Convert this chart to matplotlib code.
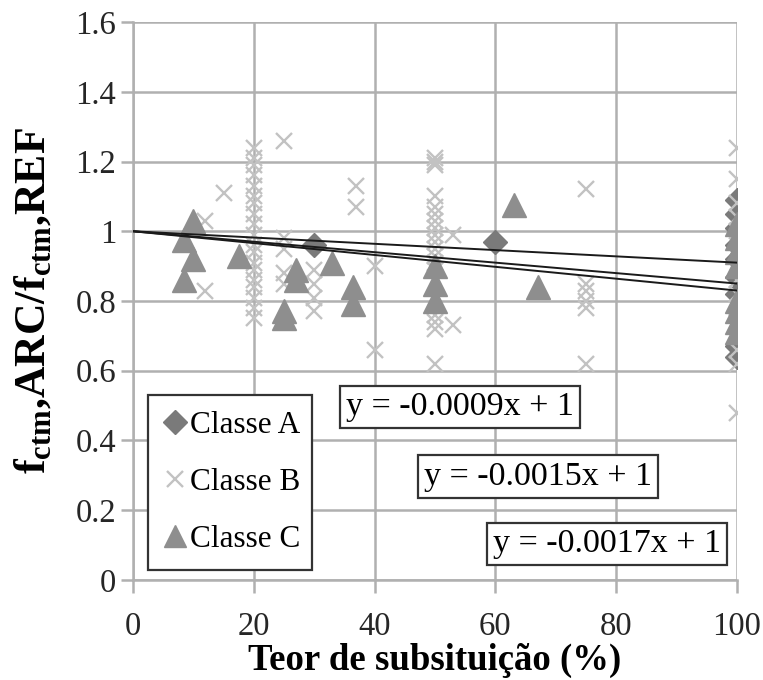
import matplotlib
matplotlib.use("Agg")
import matplotlib.pyplot as plt
import numpy as np

plt.rcParams["font.family"] = ["Liberation Serif", "DejaVu Serif"]
plt.rcParams["mathtext.default"] = "regular"

# Classe A (diamonds)
a_x = [30, 60, 100, 100, 100, 100, 100, 100, 100, 100, 100]
a_y = [0.96, 0.97, 1.09, 1.05, 1.01, 0.96, 0.92, 0.87, 0.82, 0.67, 0.64]

# Classe B (crosses)
b_x = ([12, 12, 15]
       + [20] * 19
       + [25] * 5
       + [30] * 4
       + [37, 37, 40, 40]
       + [50] * 18
       + [53, 53]
       + [75] * 6
       + [100] * 16)
b_y = ([1.03, 0.83, 1.11]
       + [1.24, 1.21, 1.19, 1.16, 1.13, 1.10, 1.08, 1.05, 1.02, 0.99,
          0.96, 0.94, 0.91, 0.89, 0.86, 0.84, 0.81, 0.78, 0.75]
       + [1.26, 0.98, 0.95, 0.88, 0.85]
       + [0.89, 0.85, 0.81, 0.77]
       + [1.13, 1.07, 0.90, 0.66]
       + [1.21, 1.20, 1.19, 1.10, 1.07, 1.05, 1.03, 1.01, 0.99, 0.97,
          0.95, 0.93, 0.91, 0.89, 0.76, 0.74, 0.72, 0.62]
       + [0.99, 0.73]
       + [1.12, 0.85, 0.83, 0.80, 0.78, 0.62]
       + [1.24, 1.15, 1.08, 1.04, 1.00, 0.97, 0.94, 0.90, 0.86, 0.82,
          0.78, 0.74, 0.70, 0.66, 0.62, 0.48])

# Classe C (triangles)
c_x = [10, 8.5, 10, 8.5, 17.5, 25, 25, 27, 27, 33, 36.5, 36.5,
       50, 50, 50, 63, 67,
       100, 100, 100, 100, 100, 100, 100, 100]
c_y = [1.03, 0.975, 0.92, 0.86, 0.93, 0.77, 0.75, 0.89, 0.86, 0.91, 0.84, 0.79,
       0.90, 0.85, 0.80, 1.075, 0.84,
       1.02, 0.98, 0.94, 0.90, 0.80, 0.77, 0.74, 0.71]

# Linear trend lines y = m*x + 1
slopes = [-0.0009, -0.0015, -0.0017]
eq_labels = ["y = -0.0009x + 1", "y = -0.0015x + 1", "y = -0.0017x + 1"]
eq_pos = [(54.1, 0.496), (67.1, 0.296), (78.5, 0.103)]

x_ticks = [0, 20, 40, 60, 80, 100]
y_ticks = [0, 0.2, 0.4, 0.6, 0.8, 1.0, 1.2, 1.4, 1.6]
y_ticklabels = ["0", "0.2", "0.4", "0.6", "0.8", "1", "1.2", "1.4", "1.6"]

fig = plt.figure(figsize=(7.63, 6.8), dpi=100)
ax = fig.add_axes([0.1743, 0.1471, 0.7916, 0.8205])

grid_c = "#b0b0b0"
ax.set_xlim(0, 100)
ax.set_ylim(0, 1.6)
ax.set_xticks(x_ticks)
ax.set_yticks(y_ticks)
ax.set_yticklabels(y_ticklabels)
ax.grid(True, color=grid_c, linewidth=1.8)
ax.set_axisbelow(True)
for side in ["top", "right"]:
    ax.spines[side].set_visible(False)
for side in ["left", "bottom"]:
    ax.spines[side].set_color(grid_c)
    ax.spines[side].set_linewidth(1.8)
ax.tick_params(axis="both", colors=grid_c, length=9, width=1.8,
               labelsize=23.5, labelcolor="#262626")
ax.tick_params(axis="y", pad=3)
ax.tick_params(axis="x", pad=14)

# scatter series (drawn A, B, C so that C sits on top)
ax.plot(a_x, a_y, linestyle="none", marker="D", markersize=12.5,
        color="#7a7a7a", label="Classe A", zorder=3)
ax.plot(b_x, b_y, linestyle="none", marker="x", markersize=12,
        markeredgewidth=1.7, color="#c2c2c2", label="Classe B", zorder=3)
ax.plot(c_x, c_y, linestyle="none", marker="^", markersize=17,
        color="#8e8e8e", label="Classe C", zorder=3)

xs = np.array([0, 100])
for m in slopes:
    ax.plot(xs, m * xs + 1, color="#1a1a1a", linewidth=1.4, zorder=5)

for (ex, ey), lab in zip(eq_pos, eq_labels):
    ax.text(ex, ey, lab, ha="center", va="center", fontsize=24.5, zorder=6,
            bbox=dict(boxstyle="square,pad=0.18", facecolor="white",
                      edgecolor="#333333", linewidth=1.6))

leg = ax.legend(loc="lower left", bbox_to_anchor=(0.025, 0.018, 0.272, 0.3),
                mode="expand", borderaxespad=0, fontsize=22.5, frameon=True,
                fancybox=False, handlelength=0.7, handletextpad=0.15,
                labelspacing=0.9, borderpad=0.5, markerscale=0.95,
                framealpha=1)
leg.get_frame().set_edgecolor("#333333")
leg.get_frame().set_linewidth(1.6)
leg.set_zorder(7)

ax.set_xlabel("Teor de subsituição (%)", fontsize=26.5, fontweight="bold",
              labelpad=0)
ax.set_ylabel(r"f$_{ctm}$,ARC/f$_{ctm}$,REF", fontsize=31.5,
              fontweight="bold")
ax.yaxis.set_label_coords(-0.132, 0.5)

fig.savefig("out.png", dpi=100)
